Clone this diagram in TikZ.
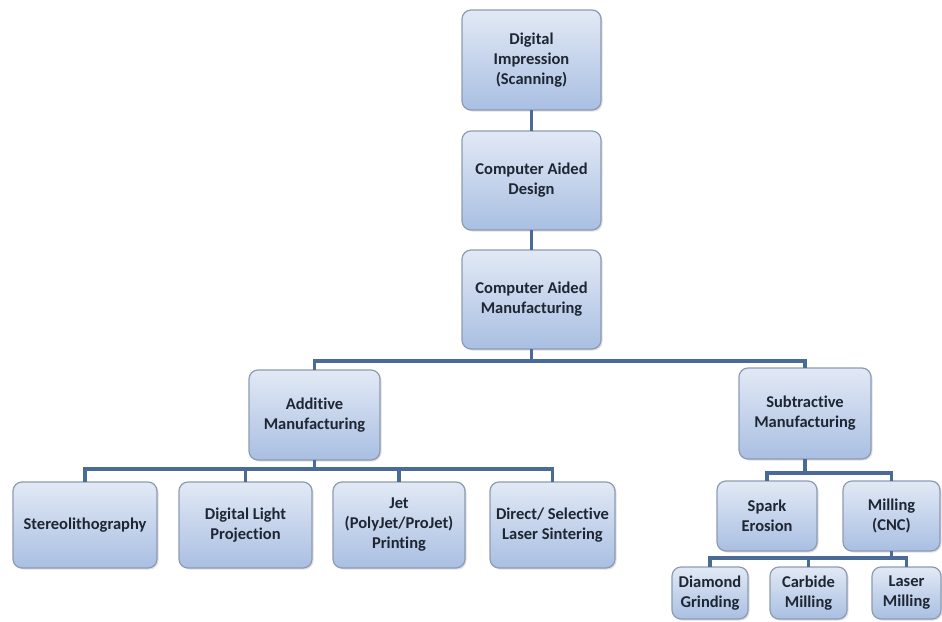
\documentclass[tikz,border=0pt]{standalone}
\usepackage{fontspec}
\setmainfont{Carlito}[Ligatures=NoCommon]
\usetikzlibrary{shadows}
\definecolor{boxtop}{HTML}{E2E9F5}
\definecolor{boxbot}{HTML}{A9BFE2}
\definecolor{boxline}{HTML}{8C9BB3}
\definecolor{linkcol}{HTML}{4A6A98}
\definecolor{boxtext}{HTML}{1E2633}
\tikzset{
  stagebox/.style={draw=boxline, line width=1.2pt, rounded corners=9pt,
    top color=boxtop, bottom color=boxbot, align=center,
    font=\fontsize{16.5}{20}\selectfont\bfseries, text=boxtext,
    drop shadow={opacity=0.25, shadow xshift=1.5pt, shadow yshift=-1.5pt},
    inner sep=0pt, outer sep=0pt},
  link/.style={draw=linkcol, line width=3.6pt}
}
\begin{document}
\begin{tikzpicture}[x=1pt, y=-1pt]
\useasboundingbox (0,0) rectangle (942,621);
% main chain
\node[stagebox, minimum width=139pt, minimum height=100pt] (scan) at (531.5,60) {Digital\\Impression\\(Scanning)};
\node[stagebox, minimum width=139pt, minimum height=99pt] (cad) at (531.5,180.5) {Computer Aided\\Design};
\node[stagebox, minimum width=139pt, minimum height=99pt] (cam) at (531.5,299.5) {Computer Aided\\Manufacturing};
% two routes
\node[stagebox, minimum width=131pt, minimum height=90pt] (add) at (314.5,415) {Additive\\Manufacturing};
\node[stagebox, minimum width=132pt, minimum height=91pt] (sub) at (805,413.5) {Subtractive\\Manufacturing};
% additive processes
\node[stagebox, minimum width=144pt, minimum height=86pt] (sla) at (85,525) {Stereolithography};
\node[stagebox, minimum width=133pt, minimum height=86pt] (dlp) at (245.5,525) {Digital Light\\Projection};
\node[stagebox, minimum width=132pt, minimum height=86pt] (jet) at (399,525) {Jet\\(PolyJet/ProJet)\\Printing};
\node[stagebox, minimum width=125pt, minimum height=86pt] (sls) at (552.5,525) {Direct/ Selective\\Laser Sintering};
% subtractive processes
\node[stagebox, minimum width=100pt, minimum height=70pt] (spark) at (767,516) {Spark\\Erosion};
\node[stagebox, minimum width=97pt, minimum height=70pt] (cnc) at (891.5,516) {Milling\\(CNC)};
\node[stagebox, minimum width=76pt, minimum height=52pt] (diam) at (710,593) {Diamond\\Grinding};
\node[stagebox, minimum width=77pt, minimum height=52pt] (carb) at (808.5,593) {Carbide\\Milling};
\node[stagebox, minimum width=69pt, minimum height=52pt] (lasm) at (906.5,593) {Laser\\Milling};
% bus points
\coordinate (b1) at (531.5,361);
\coordinate (b2) at (314.5,469);
\coordinate (b3) at (805,473);
\coordinate (b4) at (891.5,558);
% connectors
\draw[link] (scan) -- (cad);
\draw[link] (cad) -- (cam);
\draw[link] (cam) -- (b1);
\draw[link] (add) |- (b1) -| (sub);
\draw[link] (add) -- (b2);
\draw[link] (sla) |- (b2) -| (sls);
\draw[link] (dlp) -- (dlp |- b2);
\draw[link] (jet) -- (jet |- b2);
\draw[link] (sub) -- (b3);
\draw[link] (spark) |- (b3) -| (cnc);
\draw[link] (cnc) -- (b4);
\draw[link] (diam) |- (b4) -| (lasm);
\draw[link] (carb) -- (carb |- b4);
\end{tikzpicture}
\end{document}
